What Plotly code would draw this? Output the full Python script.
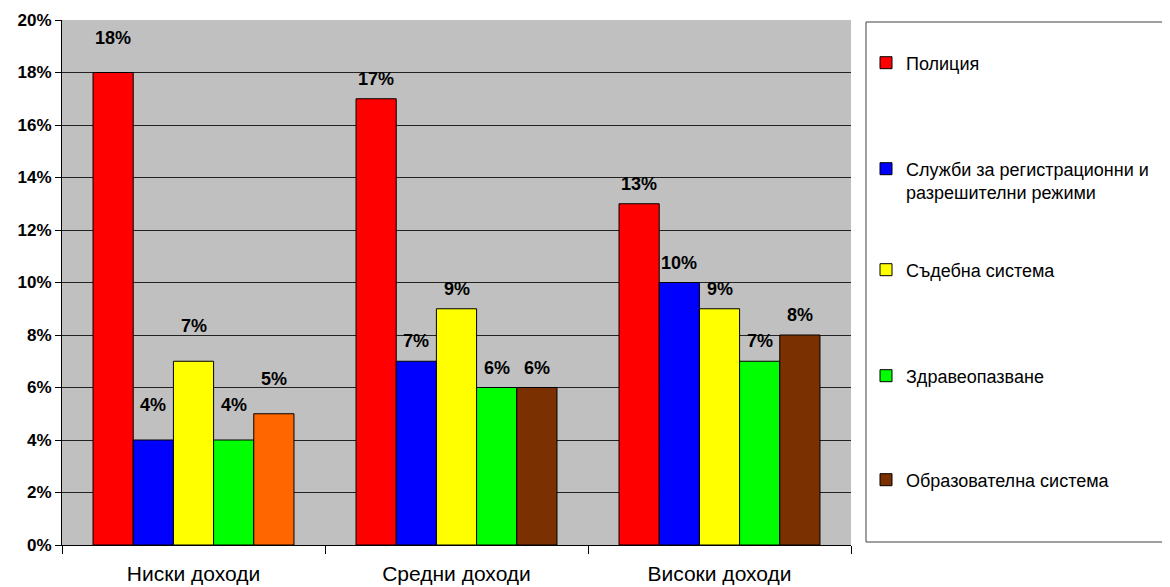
import plotly.graph_objects as go

categories = ["Ниски доходи", "Средни доходи", "Високи доходи"]
series_names = [
    "Полиция",
    "Служби за регистрационни и<br>разрешителни режими",
    "Съдебна система",
    "Здравеопазване",
    "Образователна система",
]
police = [18, 17, 13]
registration = [4, 7, 10]
judicial = [7, 9, 9]
health = [4, 6, 7]
education = [5, 6, 8]
y_ticks = [0, 2, 4, 6, 8, 10, 12, 14, 16, 18, 20]
y_tick_labels = [f"{t}%" for t in y_ticks]

series_values = [police, registration, judicial, health, education]
colors = ["#FF0000", "#0000FF", "#FFFF00", "#00FF00", "#7A3000"]
education_point_colors = ["#FF6600", "#7A3000", "#7A3000"]
label_lift = [35, 20, 20]  # px above bar top, per category

# page body has an 8px offset; work in figure coordinates = reference - 8
OFF = 8
W, H = 1170 - OFF, 587 - OFF
PL, PR, PT, PB = 62 - OFF, 851 - OFF, 20 - OFF, 545 - OFF
ML, MR, MT, MB = PL, W - PR, PT, H - PB
plot_w = PR - PL
plot_h = PB - PT
bargap = 0.236
FONT = "Arial, Liberation Sans, sans-serif"

fig = go.Figure()
legend_y_px = [y - OFF for y in [63, 180.5, 270, 376, 480]]
legend_ids = ["legend", "legend2", "legend3", "legend4", "legend5"]

for i, (name, vals, col) in enumerate(zip(series_names, series_values, colors)):
    mc = education_point_colors if i == 4 else col
    fig.add_trace(go.Bar(
        x=categories, y=vals, name=name,
        marker=dict(color=mc, line=dict(color="black", width=1)),
        offsetgroup=str(i), showlegend=(i != 4), legend=legend_ids[i],
        hoverinfo="x+y+name",
    ))
# legend entry for education series (uniform brown swatch)
fig.add_trace(go.Bar(
    x=[categories[0]], y=[None], name=series_names[4],
    marker=dict(color=colors[4], line=dict(color="black", width=1)),
    offsetgroup="4", showlegend=True, legend=legend_ids[4],
))

# data labels
cat_px = plot_w / len(categories)
bar_px = cat_px * (1 - bargap) / len(series_values)
annotations = []
for i, vals in enumerate(series_values):
    for j, v in enumerate(vals):
        annotations.append(dict(
            x=categories[j], y=v, xref="x", yref="y",
            text=f"{v}%", showarrow=False,
            xshift=(i - (len(series_values) - 1) / 2) * bar_px,
            yshift=label_lift[j], yanchor="middle",
            font=dict(family=FONT, size=18, color="black", weight="bold"),
        ))

layout_legends = {}
for k, lid in enumerate(legend_ids):
    layout_legends[lid] = dict(
        x=(866 - OFF - PL) / plot_w, xanchor="left",
        y=(PB - legend_y_px[k]) / plot_h, yanchor="middle",
        valign="top", bgcolor="rgba(0,0,0,0)", borderwidth=0,
        font=dict(family=FONT, size=18, color="black"),
        itemclick=False, itemdoubleclick=False,
    )

fig.update_layout(
    width=W, height=H,
    margin=dict(l=ML, r=MR, t=MT, b=MB, pad=0, autoexpand=False),
    paper_bgcolor="white", plot_bgcolor="#C0C0C0",
    barmode="group", bargap=bargap, bargroupgap=0,
    font=dict(family=FONT, color="black"),
    annotations=annotations,
    shapes=[dict(
        type="rect", xref="paper", yref="paper",
        x0=(866 - OFF - PL) / plot_w, x1=(1190 - OFF - PL) / plot_w,
        y0=(PB - (542 - OFF)) / plot_h, y1=(PB - (22 - OFF)) / plot_h,
        line=dict(color="#404040", width=1), fillcolor="rgba(0,0,0,0)",
        layer="below",
    )],
    **layout_legends,
)
fig.update_xaxes(
    type="category", tickson="boundaries", ticks="outside", ticklen=8,
    tickcolor="black", showline=True, linecolor="black", linewidth=1,
    showgrid=False, ticklabelstandoff=10,
    tickfont=dict(family=FONT, size=21, color="black"),
)
fig.update_yaxes(
    range=[0, 20], tickvals=y_ticks, ticktext=y_tick_labels, ticks="outside",
    ticklen=6, tickcolor="black", showline=True, linecolor="black",
    linewidth=1, showgrid=True, gridcolor="#222222", gridwidth=1,
    zeroline=False,
    tickfont=dict(family=FONT, size=17, color="black", weight="bold"),
)

fig.write_html("out.html")
